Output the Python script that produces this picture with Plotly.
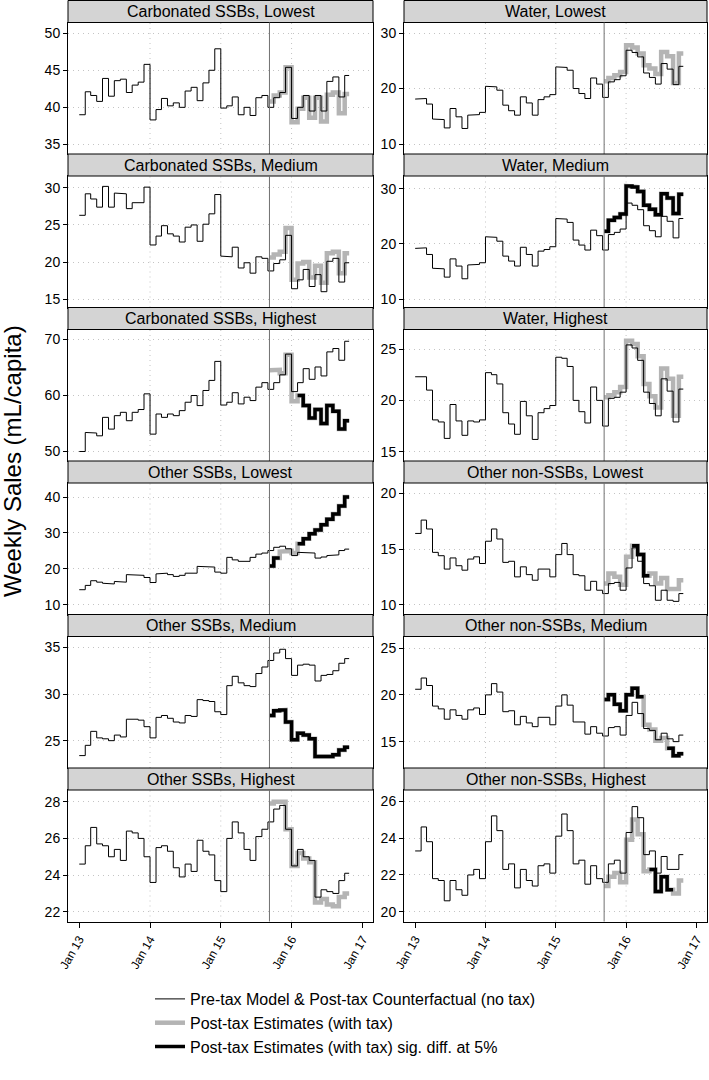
import plotly.graph_objects as go
import pandas as pd

# ---------------- data ----------------
months = pd.date_range("2013-01-01", "2016-10-01", freq="MS")
month_starts = [d.strftime("%Y-%m-%d") for d in months]
end_date = "2016-10-24"
tax_date = "2015-09-09"
post_starts = [tax_date] + month_starts[33:]

year_ticks = ["2013-01-01", "2014-01-01", "2015-01-01", "2016-01-01", "2017-01-01"]
year_labels = ["Jan 13", "Jan 14", "Jan 15", "Jan 16", "Jan 17"]
grid_years = ["2014-01-01", "2015-01-01", "2016-01-01"]

titles = [
    "Carbonated SSBs, Lowest", "Water, Lowest",
    "Carbonated SSBs, Medium", "Water, Medium",
    "Carbonated SSBs, Highest", "Water, Highest",
    "Other SSBs, Lowest", "Other non-SSBs, Lowest",
    "Other SSBs, Medium", "Other non-SSBs, Medium",
    "Other SSBs, Highest", "Other non-SSBs, Highest",
]

# pre-tax model & counterfactual (monthly levels, Jan 2013 - Oct 2016)
cf_csb_low = [39.0, 42.1, 41.6, 40.8, 43.9, 41.5, 43.6, 43.8, 42.0, 43.0, 43.4, 45.8, 38.3, 39.7, 41.2, 40.2, 40.6, 40.0, 42.2, 42.7, 40.9, 43.3, 45.0, 47.9, 39.9, 40.2, 41.4, 39.0, 40.0, 38.9, 41.3, 41.6, 40.0, 41.3, 42.0, 45.4, 38.5, 40.0, 41.6, 39.5, 41.6, 39.5, 43.5, 44.1, 41.4, 44.3]
cf_wat_low = [18.1, 18.2, 17.2, 14.5, 14.4, 12.9, 16.4, 14.9, 12.8, 15.2, 15.3, 15.7, 20.4, 20.3, 19.7, 17.0, 16.0, 15.2, 18.5, 17.4, 15.2, 18.0, 18.5, 18.9, 23.9, 23.8, 23.3, 20.0, 19.1, 18.2, 21.9, 20.8, 18.4, 21.2, 21.6, 22.3, 26.9, 26.5, 25.7, 22.8, 22.0, 20.8, 24.5, 23.5, 20.7, 24.0]
cf_csb_med = [26.3, 29.2, 28.5, 27.4, 30.2, 27.4, 29.3, 29.2, 27.2, 28.0, 28.0, 30.1, 22.3, 23.5, 24.9, 23.8, 23.5, 22.7, 24.7, 25.0, 22.8, 25.1, 26.5, 29.1, 20.8, 20.7, 22.0, 19.2, 19.9, 18.5, 20.7, 20.5, 18.8, 19.8, 20.3, 23.6, 16.4, 17.6, 19.0, 16.7, 18.3, 16.0, 20.1, 20.5, 17.3, 19.9]
cf_wat_med = [19.2, 19.3, 18.1, 15.6, 15.5, 14.0, 17.3, 16.0, 13.7, 16.2, 16.3, 16.6, 21.3, 21.2, 20.5, 17.8, 16.9, 16.0, 19.4, 18.1, 16.0, 18.7, 19.0, 19.5, 24.6, 24.5, 23.9, 20.7, 19.8, 18.9, 22.5, 21.5, 18.9, 21.7, 22.1, 22.7, 27.4, 27.0, 26.2, 23.3, 22.4, 21.3, 25.0, 24.1, 21.1, 24.6]
cf_csb_high = [50.0, 53.4, 53.3, 52.8, 56.1, 54.0, 56.4, 57.0, 55.5, 57.0, 57.5, 60.3, 53.1, 56.7, 56.1, 56.7, 56.4, 57.3, 58.8, 60.0, 58.2, 60.9, 62.7, 66.1, 58.3, 58.8, 60.5, 58.5, 59.7, 59.1, 61.5, 62.3, 61.1, 62.3, 63.7, 67.4, 60.7, 62.3, 64.8, 62.9, 65.1, 63.5, 67.8, 68.4, 66.3, 69.7]
cf_wat_high = [22.3, 22.3, 21.0, 18.1, 17.9, 16.3, 19.6, 18.0, 16.6, 18.0, 17.9, 18.1, 22.7, 22.5, 21.6, 18.8, 17.7, 16.7, 19.9, 18.5, 16.2, 18.8, 19.2, 19.5, 24.2, 24.1, 23.3, 20.0, 18.9, 17.8, 21.3, 20.0, 17.5, 20.2, 20.3, 20.8, 25.4, 25.1, 23.9, 20.8, 19.7, 18.5, 22.1, 20.9, 17.9, 21.1]
cf_oss_low = [14.2, 15.4, 16.7, 16.3, 16.0, 15.8, 16.5, 16.3, 18.4, 18.4, 18.2, 17.6, 16.2, 18.6, 18.8, 18.4, 17.9, 18.2, 18.8, 18.8, 20.7, 20.5, 20.5, 19.1, 18.8, 23.2, 22.5, 22.1, 22.1, 23.2, 24.1, 24.4, 25.1, 26.0, 26.3, 25.6, 23.7, 24.6, 24.6, 24.4, 23.0, 23.3, 23.7, 23.9, 25.1, 25.5]
cf_ons_low = [16.4, 17.6, 16.8, 14.7, 14.4, 13.2, 14.2, 13.5, 13.1, 14.1, 14.3, 13.7, 15.7, 16.8, 15.9, 13.8, 13.9, 12.5, 13.4, 12.7, 12.2, 13.2, 13.2, 12.5, 14.5, 15.5, 14.5, 12.7, 12.6, 11.3, 12.1, 11.3, 11.0, 11.9, 12.0, 11.3, 13.3, 15.1, 13.9, 11.9, 11.7, 10.4, 11.3, 10.4, 10.3, 11.0]
cf_oss_med = [23.4, 24.5, 26.0, 25.3, 25.2, 25.0, 25.6, 25.4, 27.3, 27.3, 27.2, 26.5, 25.3, 27.5, 27.7, 27.4, 27.0, 26.9, 27.7, 27.6, 29.4, 29.3, 29.2, 28.1, 27.8, 30.9, 31.9, 31.2, 30.9, 30.8, 32.2, 32.9, 33.6, 34.4, 34.8, 33.8, 32.0, 33.1, 33.2, 33.1, 31.4, 32.0, 32.1, 32.5, 33.3, 33.8]
cf_ons_med = [20.6, 21.8, 21.0, 18.8, 18.5, 17.4, 18.4, 17.8, 17.4, 18.4, 18.6, 17.9, 20.0, 21.2, 20.3, 18.2, 18.3, 16.8, 17.7, 17.0, 16.6, 17.6, 17.6, 16.8, 18.8, 20.0, 18.9, 17.1, 17.1, 15.8, 16.6, 15.9, 15.6, 16.5, 16.6, 15.7, 17.8, 19.2, 18.0, 16.4, 16.2, 15.2, 15.9, 15.3, 15.0, 15.7]
cf_oss_high = [24.6, 25.6, 26.6, 25.7, 25.6, 25.0, 25.4, 24.8, 26.4, 26.3, 26.0, 25.0, 23.6, 25.5, 25.6, 25.3, 24.4, 23.9, 24.6, 24.2, 25.9, 25.3, 25.1, 23.7, 23.1, 26.0, 26.9, 26.3, 25.4, 24.8, 26.1, 26.5, 26.9, 27.6, 27.8, 26.5, 24.5, 25.4, 25.0, 24.8, 22.8, 23.2, 23.1, 23.0, 23.7, 24.1]
cf_ons_high = [23.3, 24.6, 23.8, 21.8, 21.7, 20.6, 21.7, 21.2, 20.9, 22.0, 22.3, 21.8, 23.8, 25.2, 24.4, 22.3, 22.6, 21.3, 22.3, 21.7, 21.4, 22.5, 22.6, 22.1, 24.1, 25.3, 24.4, 22.6, 22.8, 21.5, 22.5, 21.8, 21.6, 22.6, 22.8, 22.1, 24.3, 25.7, 25.1, 23.1, 23.3, 22.1, 23.0, 22.3, 22.3, 23.1]

# post-tax estimates (tax date .. Oct 2016)
pt_csb_low = [40.8, 41.6, 42.0, 45.4, 38.0, 39.8, 41.3, 38.6, 41.3, 38.1, 41.7, 42.0, 39.2, 41.8]
pt_wat_low = [21.3, 21.9, 22.4, 23.0, 27.8, 27.4, 26.3, 24.2, 23.6, 22.6, 26.6, 25.8, 21.0, 26.3]
pt_csb_med = [20.6, 21.0, 21.4, 24.6, 17.6, 19.8, 20.0, 17.9, 19.5, 17.2, 21.2, 21.4, 18.5, 21.2]
pt_wat_med = [22.3, 24.3, 24.8, 25.4, 30.5, 30.3, 29.5, 27.0, 26.3, 25.3, 29.1, 28.3, 25.5, 29.0]
pt_csb_high = [64.5, 64.6, 64.0, 67.3, 59.0, 60.0, 58.2, 56.0, 57.5, 55.0, 58.2, 57.2, 54.0, 55.5]
pt_wat_high = [20.3, 20.5, 20.8, 21.3, 25.8, 25.5, 24.3, 21.6, 20.4, 19.3, 23.1, 22.1, 18.5, 22.3]
pt_oss_low = [20.8, 23.0, 24.8, 25.0, 24.4, 27.0, 28.4, 29.8, 30.8, 32.3, 33.8, 35.3, 37.5, 40.0]
pt_ons_low = [11.9, 12.8, 12.5, 11.8, 14.3, 15.3, 14.5, 12.6, 12.8, 11.9, 12.4, 11.4, 11.4, 12.2]
pt_oss_med = [27.7, 28.2, 28.3, 27.0, 25.1, 25.8, 25.6, 25.2, 23.3, 23.3, 23.3, 23.5, 24.0, 24.3]
pt_ons_med = [19.5, 20.0, 19.0, 18.3, 20.0, 20.7, 19.8, 16.8, 16.3, 15.1, 15.4, 14.3, 13.5, 13.7]
pt_oss_high = [27.9, 28.0, 28.0, 26.5, 24.5, 25.2, 24.9, 24.7, 22.5, 22.7, 22.4, 22.3, 22.8, 23.0]
pt_ons_high = [21.4, 21.9, 22.1, 21.6, 23.9, 25.0, 24.2, 22.2, 22.3, 21.1, 21.9, 21.2, 21.0, 21.7]

# significant difference at 5% (1 = significant) per post-tax month
sig_csb_low = [0] * 14
sig_wat_low = [0] * 14
sig_csb_med = [0] * 14
sig_wat_med = [1] * 14
sig_csb_high = [0, 0, 0, 0, 0, 1, 1, 1, 1, 1, 1, 1, 1, 1]
sig_wat_high = [0] * 14
sig_oss_low = [1, 1, 0, 0, 0, 1, 1, 1, 1, 1, 1, 1, 1, 1]
sig_ons_low = [0, 0, 0, 0, 0, 1, 1, 1, 0, 0, 0, 0, 0, 0]
sig_oss_med = [1] * 14
sig_ons_med = [1, 1, 1, 1, 1, 1, 1, 0, 0, 0, 0, 1, 1, 1]
sig_oss_high = [0] * 14
sig_ons_high = [0, 0, 0, 0, 0, 0, 0, 0, 1, 1, 1, 1, 0, 0]

y_ticks = [[35, 40, 45, 50], [10, 20, 30], [15, 20, 25, 30], [10, 20, 30],
           [50, 60, 70], [15, 20, 25], [10, 20, 30, 40], [10, 15, 20],
           [25, 30, 35], [15, 20, 25], [22, 24, 26, 28], [20, 22, 24, 26]]
y_ranges = [[33.7, 51.45], [8.2, 31.9], [13.87, 31.6], [8.5, 32.3],
            [48.3, 71.8], [14.1, 26.9], [7.3, 43.9], [9.12, 20.93],
            [22.07, 36.17], [12.18, 26.24], [21.47, 28.64], [19.48, 26.6]]

counterfactual = [cf_csb_low, cf_wat_low, cf_csb_med, cf_wat_med, cf_csb_high, cf_wat_high,
                  cf_oss_low, cf_ons_low, cf_oss_med, cf_ons_med, cf_oss_high, cf_ons_high]
posttax = [pt_csb_low, pt_wat_low, pt_csb_med, pt_wat_med, pt_csb_high, pt_wat_high,
           pt_oss_low, pt_ons_low, pt_oss_med, pt_ons_med, pt_oss_high, pt_ons_high]
significant = [sig_csb_low, sig_wat_low, sig_csb_med, sig_wat_med, sig_csb_high, sig_wat_high,
               sig_oss_low, sig_ons_low, sig_oss_med, sig_ons_med, sig_oss_high, sig_ons_high]


def steps(starts, vals, end, mask=None):
    xs, ys = [], []
    for i, v in enumerate(vals):
        x0 = starts[i]
        x1 = starts[i + 1] if i + 1 < len(starts) else end
        if mask is not None and not mask[i]:
            if xs and xs[-1] is not None:
                xs.append(None)
                ys.append(None)
            continue
        xs += [x0, x1]
        ys += [v, v]
    return xs, ys


# ---------------- layout ----------------
W, H = 709, 1080
FONT = "Liberation Sans, Arial, Helvetica, sans-serif"
col_px = [(68, 373), (404, 707)]
row_top0, period, strip_h = 0.5, 153.5, 22
x_range = ["2012-11-04", "2017-02-24"]

GREY = "#b4b4b4"
GRID = "#c4c4c4"
fig = go.Figure()
layout = {}
shapes = []
annotations = []

for i in range(12):
    r, c = divmod(i, 2)
    ax = "" if i == 0 else str(i + 1)
    xa, ya = "x" + ax, "y" + ax
    top = row_top0 + period * r
    plot_top = top + strip_h
    plot_bot = top + period
    x0, x1 = col_px[c]
    bottom_row = (r == 5)

    layout["xaxis" + ax] = dict(
        domain=[x0 / W, x1 / W], anchor=ya, type="date", range=x_range,
        tickmode="array", tickvals=year_ticks, ticktext=year_labels,
        showticklabels=bottom_row, ticks="outside" if bottom_row else "",
        ticklen=5, tickcolor="black", tickangle=-60, automargin=False,
        tickfont=dict(size=12, color="black", family=FONT),
        showgrid=False, zeroline=False, fixedrange=True,
        showline=True, mirror=True, linecolor="black", linewidth=1,
    )
    layout["yaxis" + ax] = dict(
        domain=[1 - plot_bot / H, 1 - plot_top / H], anchor=xa,
        range=y_ranges[i], tickmode="array", tickvals=y_ticks[i],
        ticks="outside", ticklen=4, tickcolor="black", automargin=False,
        tickfont=dict(size=14, color="black", family=FONT),
        showgrid=True, gridcolor=GRID, griddash="1px,4px", gridwidth=1,
        zeroline=False, fixedrange=True,
        showline=True, mirror=True, linecolor="black", linewidth=1,
    )

    # strip
    shapes.append(dict(type="rect", xref="paper", yref="paper",
                       x0=x0 / W, x1=x1 / W, y0=1 - (top + strip_h) / H, y1=1 - top / H,
                       fillcolor="#d4d4d4", line=dict(color="black", width=1), layer="above"))
    annotations.append(dict(text=titles[i], xref="paper", yref="paper",
                            x=(x0 + x1) / 2 / W, y=1 - (top + strip_h / 2) / H,
                            xanchor="center", yanchor="middle", showarrow=False,
                            font=dict(size=16, color="black", family=FONT)))
    # vertical year grid
    for gy in grid_years:
        shapes.append(dict(type="line", xref=xa, yref=ya + " domain", x0=gy, x1=gy, y0=0, y1=1,
                           line=dict(color=GRID, width=1, dash="1px,4px"), layer="below"))
    # tax date line
    shapes.append(dict(type="line", xref=xa, yref=ya + " domain", x0=tax_date, x1=tax_date,
                       y0=0, y1=1, line=dict(color="#707070", width=1), layer="above"))

    # traces
    gx, gy_ = steps(post_starts, posttax[i], end_date)
    fig.add_trace(go.Scatter(x=gx, y=gy_, xaxis=xa, yaxis=ya, mode="lines",
                             line=dict(color=GREY, width=4.5), hoverinfo="skip",
                             name="Post-tax Estimates (with tax)",
                             legendgroup="grey", showlegend=(i == 0), legendrank=2))
    tx, ty = steps(month_starts, counterfactual[i], end_date)
    fig.add_trace(go.Scatter(x=tx, y=ty, xaxis=xa, yaxis=ya, mode="lines",
                             line=dict(color="black", width=1), hoverinfo="skip",
                             name="Pre-tax Model & Post-tax Counterfactual (no tax)",
                             legendgroup="thin", showlegend=(i == 0), legendrank=1))
    bx, by = steps(post_starts, posttax[i], end_date, mask=significant[i])
    fig.add_trace(go.Scatter(x=bx, y=by, xaxis=xa, yaxis=ya, mode="lines",
                             line=dict(color="black", width=3.5), hoverinfo="skip",
                             name="Post-tax Estimates (with tax) sig. diff. at 5%",
                             legendgroup="black", showlegend=(i == 3), legendrank=3))

annotations.append(dict(text="Weekly Sales (mL/capita)", xref="paper", yref="paper",
                        x=13 / W, y=1 - 461 / H, textangle=-90, showarrow=False,
                        xanchor="center", yanchor="middle",
                        font=dict(size=24, color="black", family=FONT)))

fig.update_layout(
    width=W, height=H, margin=dict(l=0, r=0, t=0, b=0, autoexpand=False),
    paper_bgcolor="white", plot_bgcolor="white",
    font=dict(family=FONT, color="black"),
    shapes=shapes, annotations=annotations,
    showlegend=True,
    legend=dict(x=150 / W, y=1 - 982 / H, xanchor="left", yanchor="top",
                font=dict(size=16, color="black", family=FONT),
                bgcolor="rgba(0,0,0,0)", tracegroupgap=0, itemwidth=30),
    **layout,
)

fig.write_html("out.html", config={"displayModeBar": False, "staticPlot": True},
               post_script="document.body.style.margin='0';document.body.style.overflow='hidden';")
